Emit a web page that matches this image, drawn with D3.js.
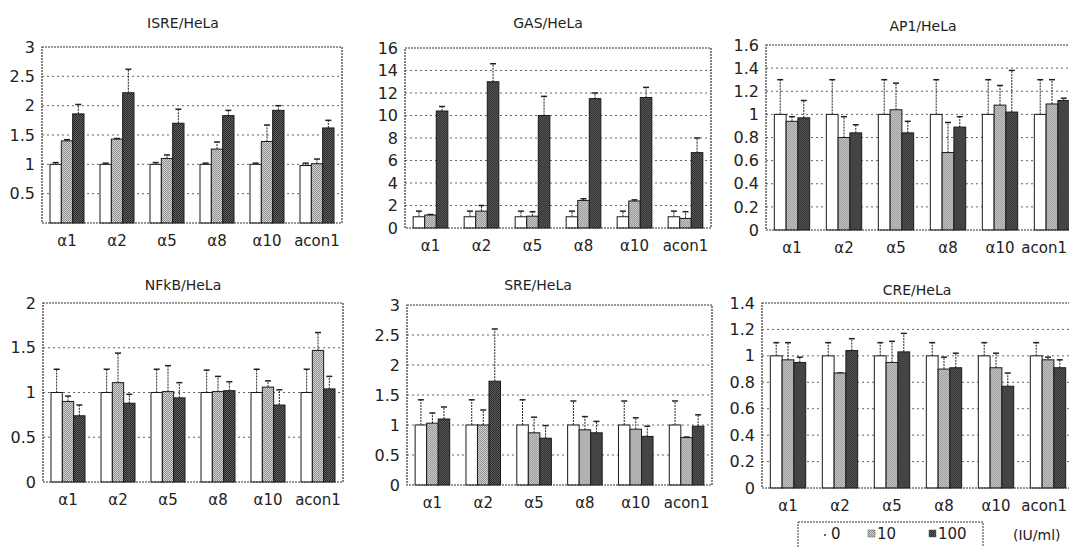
<!DOCTYPE html>
<html>
<head>
<meta charset="utf-8">
<script src="https://cdn.jsdelivr.net/npm/d3@7"></script>
<style>
  body { margin: 0; background: #fff; }
  svg { display: block; font-family: "DejaVu Sans", "Liberation Sans", Arial, sans-serif; }
</style>
</head>
<body>
<div id="chart"></div>
<script>
// categories and doses
var categories = ["α1", "α2", "α5", "α8", "α10", "acon1"];
var doses = ["0", "10", "100"];

// bar heights per category [0, 10, 100] and top of error bar
var isreVals = [[1.0, 1.40, 1.86], [1.0, 1.43, 2.22], [1.0, 1.10, 1.70], [1.0, 1.26, 1.83], [1.0, 1.39, 1.92], [0.98, 1.01, 1.62]];
var isreHi   = [[1.03, 1.42, 2.02], [1.02, 1.44, 2.62], [1.03, 1.16, 1.94], [1.02, 1.38, 1.92], [1.02, 1.67, 2.0], [1.02, 1.09, 1.75]];

var gasVals = [[1.0, 1.15, 10.4], [1.0, 1.5, 13.0], [1.0, 1.05, 10.0], [1.0, 2.45, 11.5], [1.0, 2.4, 11.6], [1.0, 0.85, 6.7]];
var gasHi   = [[1.5, 1.2, 10.8], [1.5, 2.0, 14.6], [1.5, 1.45, 11.7], [1.5, 2.6, 12.0], [1.5, 2.5, 12.5], [1.5, 1.45, 8.0]];

var ap1Vals = [[1.0, 0.94, 0.97], [1.0, 0.80, 0.84], [1.0, 1.04, 0.84], [1.0, 0.67, 0.89], [1.0, 1.08, 1.02], [1.0, 1.09, 1.12]];
var ap1Hi   = [[1.30, 0.98, 1.12], [1.30, 0.98, 0.91], [1.30, 1.27, 0.94], [1.30, 0.93, 0.98], [1.30, 1.25, 1.38], [1.30, 1.30, 1.14]];

var nfkbVals = [[1.0, 0.90, 0.74], [1.0, 1.11, 0.88], [1.0, 1.01, 0.94], [1.0, 1.01, 1.02], [1.0, 1.06, 0.86], [1.0, 1.47, 1.04]];
var nfkbHi   = [[1.26, 0.96, 0.86], [1.26, 1.44, 0.98], [1.26, 1.30, 1.11], [1.25, 1.18, 1.12], [1.26, 1.13, 1.03], [1.26, 1.67, 1.18]];

var sreVals = [[1.0, 1.03, 1.10], [1.0, 1.0, 1.73], [1.0, 0.87, 0.78], [1.0, 0.92, 0.87], [1.0, 0.93, 0.81], [1.0, 0.79, 0.98]];
var sreHi   = [[1.42, 1.20, 1.30], [1.42, 1.25, 2.60], [1.42, 1.13, 0.99], [1.40, 1.14, 1.06], [1.40, 1.12, 0.98], [1.40, 0.80, 1.17]];

var creVals = [[1.0, 0.97, 0.95], [1.0, 0.87, 1.04], [1.0, 0.95, 1.03], [1.0, 0.90, 0.91], [1.0, 0.91, 0.77], [1.0, 0.97, 0.91]];
var creHi   = [[1.10, 1.10, 0.99], [1.10, 0.87, 1.13], [1.10, 1.11, 1.17], [1.10, 0.99, 1.02], [1.10, 1.02, 0.87], [1.10, 0.99, 0.97]];

// panel layout (pixel boxes)
var panels = [
  {title: "ISRE/HeLa", vals: isreVals, hi: isreHi, yMax: 3, step: 0.5, noZero: true,
   x0: 42, x1: 342, yTop: 47, yBot: 223, tx: 183, ty: 28},
  {title: "GAS/HeLa", vals: gasVals, hi: gasHi, yMax: 16, step: 2,
   x0: 405, x1: 711, yTop: 48, yBot: 228, tx: 548, ty: 28},
  {title: "AP1/HeLa", vals: ap1Vals, hi: ap1Hi, yMax: 1.6, step: 0.2,
   x0: 766, x1: 1078, yTop: 45, yBot: 230, tx: 923, ty: 31},
  {title: "NFkB/HeLa", vals: nfkbVals, hi: nfkbHi, yMax: 2, step: 0.5,
   x0: 43, x1: 343, yTop: 303, yBot: 482, tx: 183, ty: 290},
  {title: "SRE/HeLa", vals: sreVals, hi: sreHi, yMax: 3, step: 0.5,
   x0: 407, x1: 712, yTop: 305, yBot: 485, tx: 538, ty: 290},
  {title: "CRE/HeLa", vals: creVals, hi: creHi, yMax: 1.4, step: 0.2,
   x0: 762, x1: 1074, yTop: 303, yBot: 488, tx: 917, ty: 295}
];

var svgWidth = 1069;
var svgHeight = 547;

var svg = d3.select("#chart")
  .append("svg")
  .attr("width", svgWidth)
  .attr("height", svgHeight);

// halftone-ish fills (2x2 checker)
var defs = svg.append("defs");
function stipple(id, bg, fg) {
  var p = defs.append("pattern")
    .attr("id", id)
    .attr("width", 2)
    .attr("height", 2)
    .attr("patternUnits", "userSpaceOnUse");
  p.append("rect").attr("width", 2).attr("height", 2).attr("fill", bg);
  p.append("rect").attr("x", 0).attr("y", 0).attr("width", 1).attr("height", 1).attr("fill", fg);
  p.append("rect").attr("x", 1).attr("y", 1).attr("width", 1).attr("height", 1).attr("fill", fg);
}
stipple("light", "#d4d4d4", "#8e8e8e");
stipple("dark", "#5e5e5e", "#2a2a2a");

var fills = ["#ffffff", "url(#light)", "url(#dark)"];

panels.forEach(function(p) {
  var g = svg.append("g");

  var y = d3.scaleLinear()
    .domain([0, p.yMax])
    .range([p.yBot, p.yTop]);

  var x = d3.scaleBand()
    .domain(categories)
    .range([p.x0, p.x1])
    .paddingInner(0.32)
    .paddingOuter(0.16);

  var xs = d3.scaleBand()
    .domain(d3.range(doses.length))
    .range([0, x.bandwidth()]);

  var ticks = d3.range(0, p.yMax + p.step / 2, p.step);

  // gridlines
  g.selectAll("line.grid")
    .data(ticks.filter(function(t) { return t > 0 && t < p.yMax - 1e-9; }))
    .enter()
    .append("line")
    .attr("class", "grid")
    .attr("x1", p.x0)
    .attr("x2", p.x1)
    .attr("y1", function(d) { return y(d); })
    .attr("y2", function(d) { return y(d); })
    .attr("stroke", "#666")
    .attr("stroke-width", 1)
    .attr("stroke-dasharray", "2,3");

  // title
  g.append("text")
    .attr("x", p.tx)
    .attr("y", p.ty)
    .attr("text-anchor", "middle")
    .style("font-size", "14px")
    .attr("fill", "#222")
    .text(p.title);

  // y axis
  var leftAxis = d3.axisLeft(y)
    .tickValues(p.noZero ? ticks.filter(function(t) { return t > 0; }) : ticks)
    .tickSize(0)
    .tickPadding(7)
    .tickFormat(function(d) { return String(+d.toFixed(1)); });

  var ay = g.append("g")
    .attr("transform", "translate(" + p.x0 + ",0)")
    .call(leftAxis);
  ay.select(".domain").remove();
  ay.selectAll("text")
    .style("font-size", "16px")
    .style("font-family", "'DejaVu Sans', Arial, sans-serif")
    .attr("fill", "#222");

  // x labels
  var bottomAxis = d3.axisBottom(x)
    .tickSize(0)
    .tickPadding(12);
  var ax = g.append("g")
    .attr("transform", "translate(0," + p.yBot + ")")
    .call(bottomAxis);
  ax.select(".domain").remove();
  ax.selectAll("text")
    .style("font-size", "15px")
    .style("font-family", "'DejaVu Sans', Arial, sans-serif")
    .attr("fill", "#222")
    .attr("text-anchor", function(d) { return (d === "acon1" && p.x1 > 1069) ? "end" : "middle"; })
    .attr("dx", function(d) { return (d === "acon1" && p.x1 > 1069) ? 1067 - (x(d) + x.bandwidth() / 2) : 0; });

  // bars
  var groups = g.selectAll("g.cat")
    .data(p.vals)
    .enter()
    .append("g")
    .attr("class", "cat")
    .attr("transform", function(d, i) { return "translate(" + x(categories[i]) + ",0)"; });

  groups.each(function(row, ci) {
    var cg = d3.select(this);
    var hiRow = p.hi[ci];

    // error bars (upper only)
    cg.selectAll("line.err")
      .data(row)
      .enter()
      .append("line")
      .attr("class", "err")
      .attr("x1", function(d, i) { return xs(i) + xs.bandwidth() / 2; })
      .attr("x2", function(d, i) { return xs(i) + xs.bandwidth() / 2; })
      .attr("y1", function(d) { return y(d); })
      .attr("y2", function(d, i) { return y(hiRow[i]); })
      .attr("stroke", "#222")
      .attr("stroke-width", 1)
      .attr("stroke-dasharray", "2,1");

    cg.selectAll("line.cap")
      .data(row)
      .enter()
      .append("line")
      .attr("class", "cap")
      .attr("x1", function(d, i) { return xs(i) + xs.bandwidth() / 2 - 3; })
      .attr("x2", function(d, i) { return xs(i) + xs.bandwidth() / 2 + 3; })
      .attr("y1", function(d, i) { return y(hiRow[i]); })
      .attr("y2", function(d, i) { return y(hiRow[i]); })
      .attr("stroke", "#222")
      .attr("stroke-width", 1.5);

    cg.selectAll("rect")
      .data(row)
      .enter()
      .append("rect")
      .attr("x", function(d, i) { return xs(i); })
      .attr("y", function(d) { return y(d); })
      .attr("width", xs.bandwidth())
      .attr("height", function(d) { return y(0) - y(d); })
      .attr("fill", function(d, i) { return fills[i]; })
      .attr("stroke", "#1a1a1a")
      .attr("stroke-width", 1);
  });

  // plot frame
  g.append("rect")
    .attr("x", p.x0)
    .attr("y", p.yTop)
    .attr("width", p.x1 - p.x0)
    .attr("height", p.yBot - p.yTop)
    .attr("fill", "none")
    .attr("stroke", "#333")
    .attr("stroke-width", 1.2)
    .attr("stroke-dasharray", "2,1");
});

// legend
var legend = svg.append("g");
legend.append("rect")
  .attr("x", 798)
  .attr("y", 522)
  .attr("width", 185)
  .attr("height", 30)
  .attr("fill", "none")
  .attr("stroke", "#333")
  .attr("stroke-dasharray", "2,1");

var legendX = [824, 868, 929];
doses.forEach(function(d, i) {
  legend.append("rect")
    .attr("x", legendX[i])
    .attr("y", i === 0 ? 534 : 530)
    .attr("width", i === 0 ? 2 : 7)
    .attr("height", i === 0 ? 2 : 7)
    .attr("fill", i === 0 ? "#666" : fills[i])
    .attr("stroke", i === 0 ? "none" : "#555")
    .attr("stroke-width", 0.5);
  legend.append("text")
    .attr("x", legendX[i] + (i === 0 ? 7 : 9))
    .attr("y", 539)
    .style("font-size", "15px")
    .attr("fill", "#222")
    .text(d);
});

legend.append("text")
  .attr("x", 1013)
  .attr("y", 540)
  .style("font-size", "14px")
  .attr("fill", "#222")
  .text("(IU/ml)");
</script>
</body>
</html>
